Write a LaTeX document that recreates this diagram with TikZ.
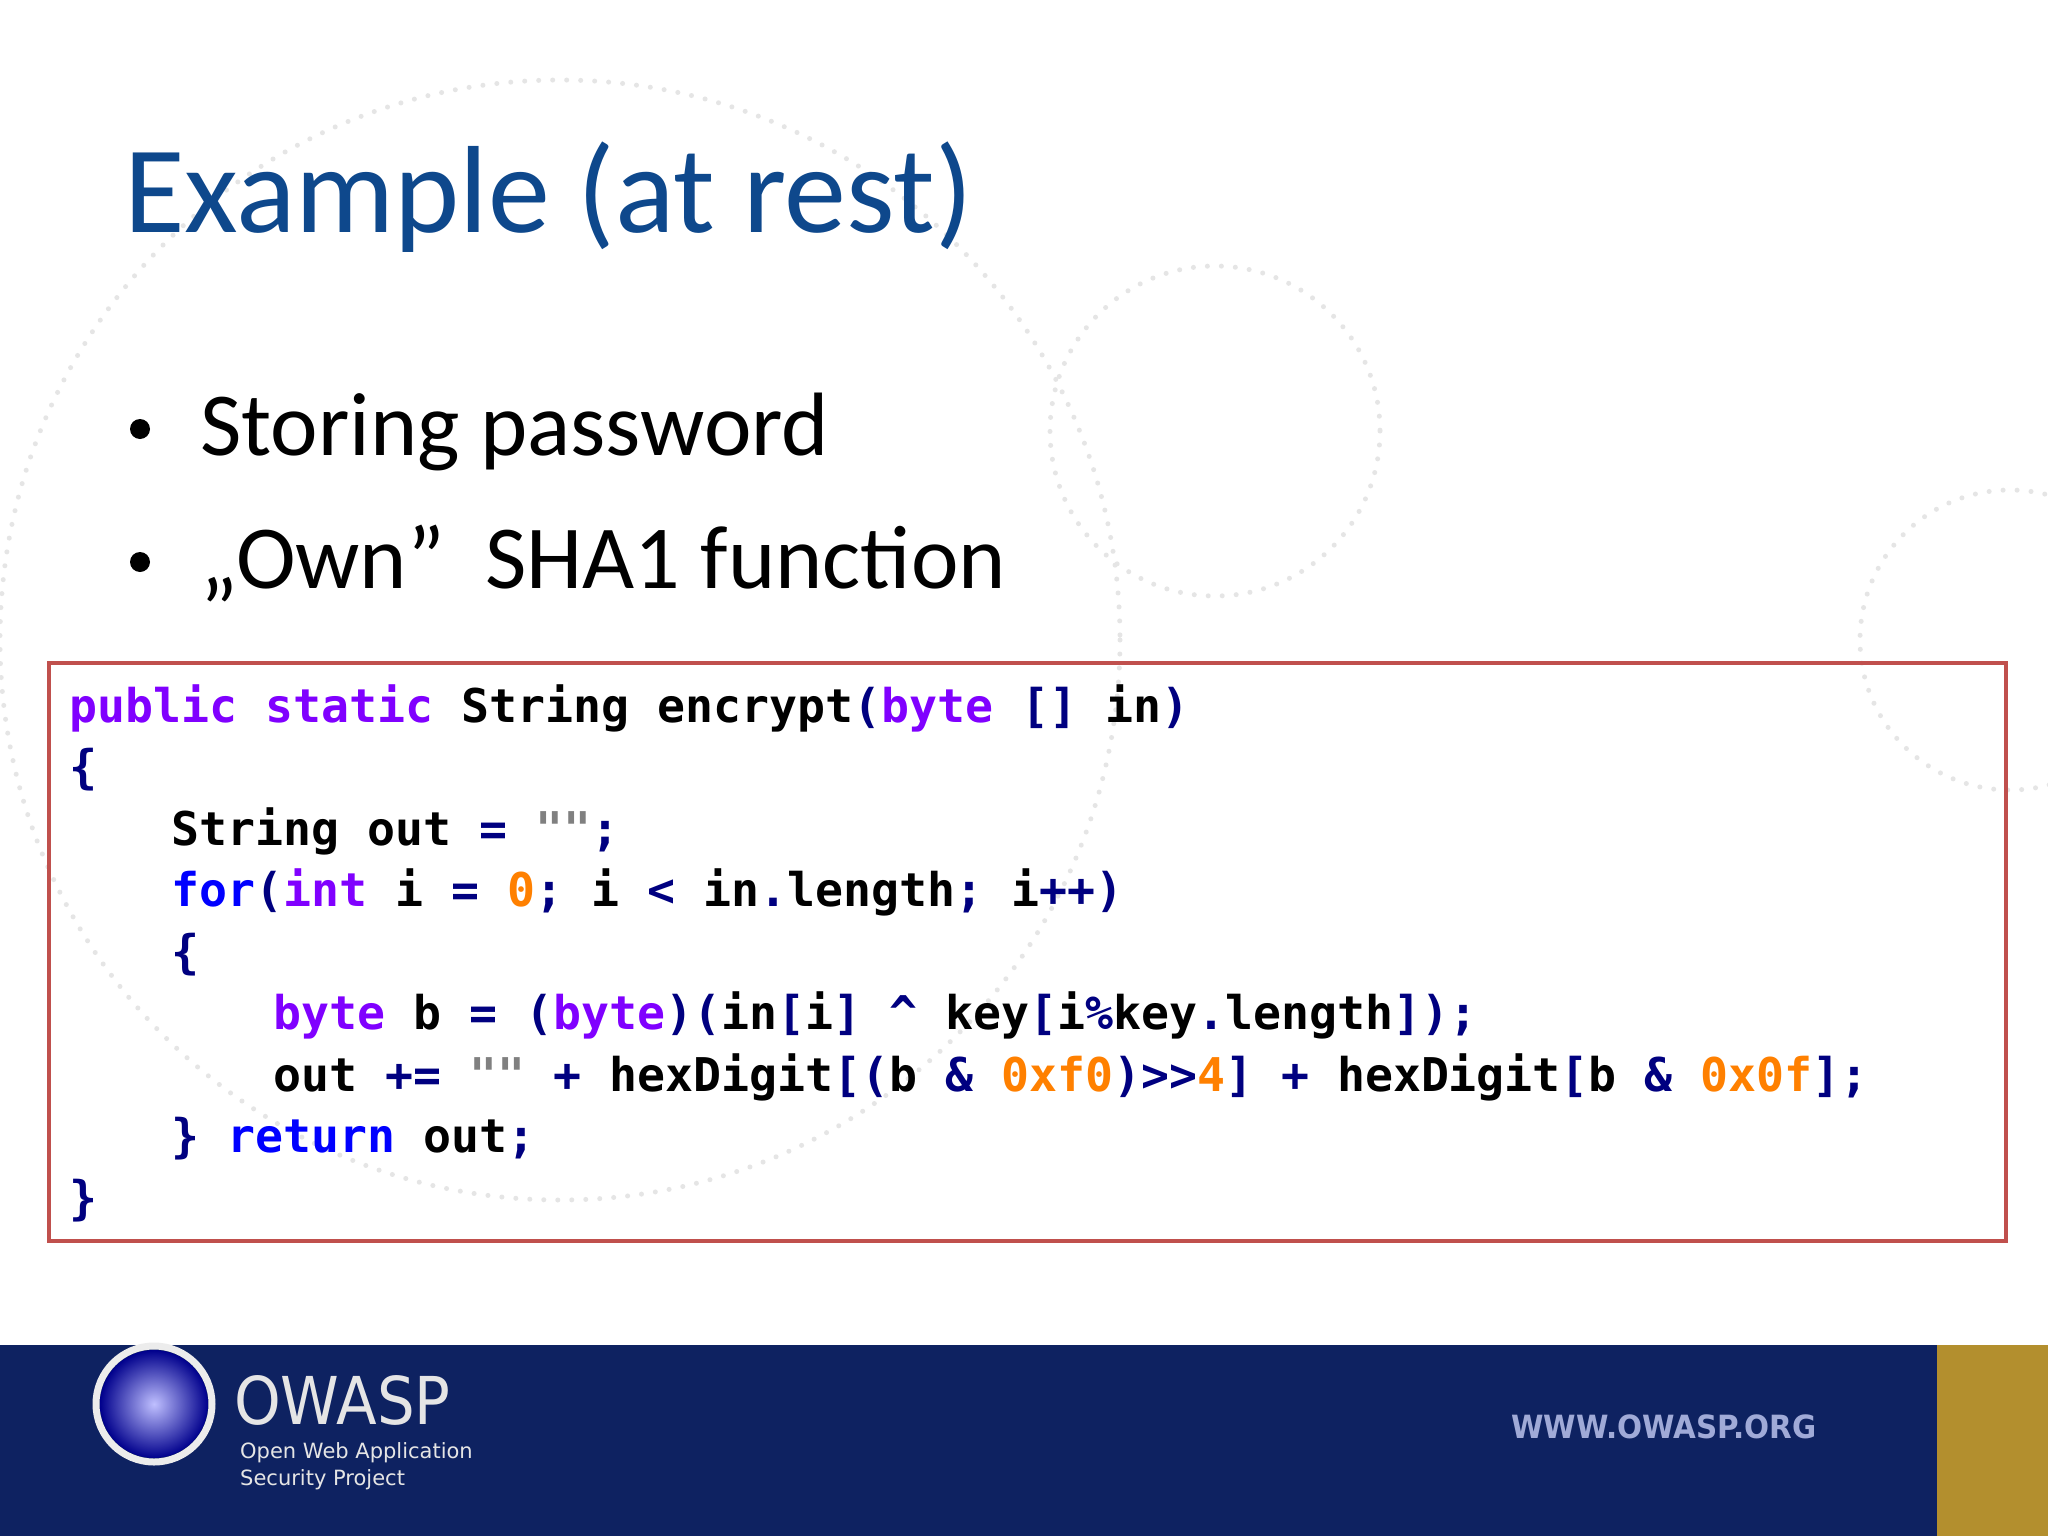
\documentclass[tikz,border=0pt]{standalone}
\usepackage{fontspec}
\setmainfont{Carlito}
\newfontfamily\codef{DejaVu Sans Mono}
\newfontfamily\logof{DejaVu Sans}
\definecolor{titleblue}{RGB}{14,72,140}
\definecolor{boxred}{RGB}{192,80,77}
\definecolor{kwp}{RGB}{128,0,255}
\definecolor{kwb}{RGB}{0,0,255}
\definecolor{pn}{RGB}{0,0,128}
\definecolor{strg}{RGB}{128,128,128}
\definecolor{num}{RGB}{255,128,0}
\definecolor{navy}{RGB}{14,34,97}
\definecolor{gold}{RGB}{179,143,46}
\definecolor{periw}{RGB}{160,170,215}
\newcommand{\kp}[1]{{\color{kwp}#1}}
\newcommand{\kb}[1]{{\color{kwb}#1}}
\newcommand{\pp}[1]{{\color{pn}#1}}
\newcommand{\sg}[1]{{\color{strg}#1}}
\newcommand{\nm}[1]{{\color{num}#1}}
\begin{document}
\begin{tikzpicture}[x=1pt,y=-1pt,
  code/.style={anchor=base west,inner sep=0pt,font=\codef\bfseries\fontsize{46.5}{50}\selectfont},
  dotc/.style={draw=black!10,line width=5pt,dash pattern=on 0pt off 14pt,line cap=round}]
\useasboundingbox (0,0) rectangle (2048,1536);
\fill[white] (0,0) rectangle (2048,1536);
% faint dotted background circles
\draw[dotc] (1215,431) circle (165);
\draw[dotc] (560,640) circle (560);
\draw[dotc] (2010,640) circle (150);
% title
\node[anchor=base west,inner sep=0pt,text=titleblue,font=\fontsize{124}{136}\selectfont] (title) at (124,232) {Example (at rest)};
\node[anchor=base west,inner sep=0pt,font=\fontsize{90}{100}\selectfont] (b1) at (200,455) {Storing password};
\node[anchor=base west,inner sep=0pt,font=\fontsize{90}{100}\selectfont] (b2) at (200,588) {„Own”\ \ SHA1 function};
\fill (b1.base west) ++(-60,-26) circle (10) node (d1) {};
\fill (b2.base west) ++(-60,-26) circle (10) node (d2) {};
% code box
\draw[boxred,line width=4pt] (49,663) rectangle (2006,1241);
\node[code] (l1) at (69,722) {\kp{public static} String encrypt\pp{(}\kp{byte} \pp{[]} in\pp{)}};
\node[code] (l2) at (69,783) {\pp{\{}};
\node[code] (l3) at (171,845) {String out \pp{=} \sg{""}\pp{;}};
\node[code] (l4) at (171,906) {\kb{for}\pp{(}\kp{int} i \pp{=} \nm{0}\pp{;} i \pp{<} in\pp{.}length\pp{;} i\pp{++)}};
\node[code] (l5) at (171,968) {\pp{\{}};
\node[code] (l6) at (273,1029) {\kp{byte} b \pp{=} \pp{(}\kp{byte}\pp{)(}in\pp{[}i\pp{]} \pp{\textasciicircum} key\pp{[}i\pp{\%}key\pp{.}length\pp{]);}};
\node[code] (l7) at (273,1091) {out \pp{+=} \sg{""} \pp{+} hexDigit\pp{[(}b \pp{\&} \nm{0xf0}\pp{)>>}\nm{4}\pp{]} \pp{+} hexDigit\pp{[}b \pp{\&} \nm{0x0f}\pp{];}};
\node[code] (l8) at (171,1152) {\pp{\}} \kb{return} out\pp{;}};
\node[code] (l9) at (69,1214) {\pp{\}}};
% footer
\fill[navy] (0,1345) rectangle (2048,1536);
\fill[gold] (1937,1345) rectangle (2048,1536);
\shade[inner color=blue!25!white,outer color=blue!55!black] (154,1404) circle (54);
\draw[white!85!gray,line width=7pt] (154,1404) circle (58);
\node[anchor=base west,inner sep=0pt,text=white!80!gray,font=\logof\fontsize{66}{66}\selectfont,xscale=0.9] (owasp) at (234,1424) {OWASP};
\node[anchor=north west,inner sep=0pt,align=left,text=white!80!gray,font=\logof\fontsize{21}{27}\selectfont] (sub) at (240,1442) {Open Web Application\\Security Project};
\node[anchor=base west,inner sep=0pt,text=periw,font=\logof\bfseries\fontsize{32}{32}\selectfont,xscale=0.92] (www) at (1511,1438) {WWW.OWASP.ORG};
\end{tikzpicture}
\end{document}
